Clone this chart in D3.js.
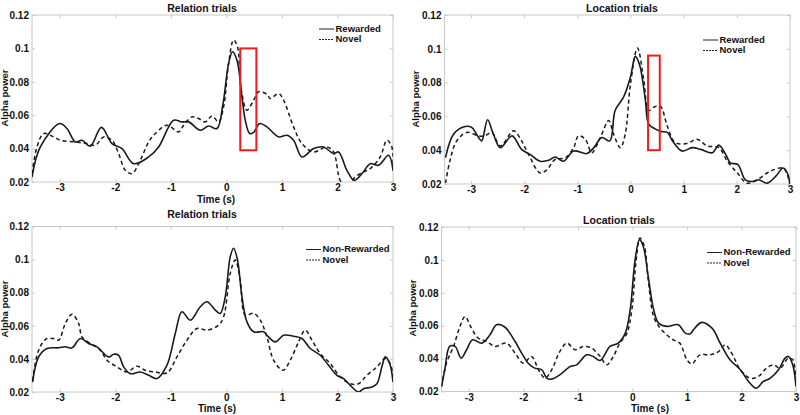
<!DOCTYPE html>
<html><head><meta charset="utf-8">
<script src="https://cdn.jsdelivr.net/npm/d3@7"></script>
<style>body{margin:0;background:#fff}svg{display:block}text{font-family:"Liberation Sans",Arial,sans-serif;font-weight:bold;fill:#111}</style>
</head><body><svg id="c" width="800" height="415"></svg>
<script>
// ---- data ----
const xTicks = [-3,-2,-1,0,1,2,3];
const yTicks = [0.02,0.04,0.06,0.08,0.1,0.12];
const yTickLabels = ["0.02","0.04","0.06","0.08","0.1","0.12"];
const titles = ["Relation trials","Location trials","Relation trials","Location trials"];
const legendTop = ["Rewarded","Novel"];
const legendBottom = ["Non-Rewarded","Novel"];

const relRewarded = [[-3.5,0.023],[-3.35,0.041],[-3.0,0.055],[-2.87,0.052],[-2.72,0.044],[-2.6,0.045],[-2.45,0.0415],[-2.25,0.0527],[-2.06,0.043],[-1.88,0.040],[-1.67,0.031],[-1.4,0.035],[-1.22,0.041],[-0.95,0.057],[-0.8,0.056],[-0.68,0.056],[-0.47,0.051],[-0.32,0.0535],[-0.17,0.052],[-0.06,0.067],[0.04,0.091],[0.11,0.098],[0.19,0.093],[0.28,0.071],[0.34,0.057],[0.42,0.049],[0.49,0.0497],[0.6,0.055],[0.73,0.053],[0.94,0.047],[1.09,0.048],[1.21,0.045],[1.36,0.035],[1.57,0.040],[1.75,0.041],[1.93,0.037],[2.02,0.038],[2.17,0.027],[2.3,0.021],[2.44,0.025],[2.59,0.031],[2.74,0.030],[2.92,0.036],[3.0,0.027]];
const relNovel = [[-3.5,0.025],[-3.41,0.041],[-3.29,0.049],[-3.11,0.047],[-2.99,0.045],[-2.72,0.044],[-2.51,0.043],[-2.36,0.042],[-2.21,0.047],[-2.06,0.045],[-1.94,0.037],[-1.82,0.027],[-1.7,0.025],[-1.55,0.033],[-1.4,0.044],[-1.28,0.049],[-1.07,0.054],[-0.86,0.050],[-0.77,0.054],[-0.62,0.059],[-0.5,0.058],[-0.38,0.056],[-0.26,0.0595],[-0.14,0.056],[-0.05,0.065],[0.04,0.091],[0.13,0.105],[0.2,0.101],[0.26,0.077],[0.37,0.063],[0.49,0.069],[0.58,0.074],[0.73,0.0725],[0.79,0.070],[0.94,0.073],[1.03,0.069],[1.21,0.053],[1.36,0.043],[1.57,0.038],[1.81,0.041],[1.93,0.038],[2.05,0.021],[2.17,0.017],[2.32,0.023],[2.47,0.026],[2.59,0.028],[2.77,0.035],[2.89,0.045],[2.98,0.041],[3.0,0.025]];

const locRewarded = [[-3.48,0.0356],[-3.33,0.0495],[-3.11,0.054],[-2.99,0.0535],[-2.86,0.0475],[-2.8,0.0455],[-2.69,0.058],[-2.58,0.0495],[-2.45,0.0415],[-2.23,0.0485],[-2.05,0.0405],[-1.89,0.0375],[-1.7,0.0335],[-1.54,0.034],[-1.42,0.036],[-1.26,0.0335],[-1.07,0.0395],[-0.82,0.038],[-0.69,0.0415],[-0.54,0.0475],[-0.39,0.0455],[-0.29,0.0635],[-0.13,0.0715],[0.0,0.0835],[0.09,0.0955],[0.17,0.0905],[0.28,0.0695],[0.34,0.0555],[0.47,0.0525],[0.59,0.051],[0.69,0.0505],[0.81,0.0445],[0.97,0.0395],[1.16,0.0415],[1.32,0.0405],[1.54,0.0385],[1.66,0.043],[1.79,0.0375],[1.88,0.0325],[2.02,0.0315],[2.16,0.0225],[2.32,0.0215],[2.41,0.0225],[2.57,0.0205],[2.73,0.0245],[2.87,0.0295],[2.95,0.0265],[3.0,0.0195]];
const locNovel = [[-3.48,0.0206],[-3.4,0.0335],[-3.27,0.0455],[-3.08,0.0505],[-2.86,0.0485],[-2.74,0.0485],[-2.61,0.0505],[-2.45,0.0425],[-2.2,0.0515],[-2.05,0.0455],[-1.92,0.0375],[-1.7,0.0265],[-1.57,0.0285],[-1.42,0.0345],[-1.23,0.0355],[-1.07,0.0415],[-0.98,0.0485],[-0.85,0.0465],[-0.73,0.0385],[-0.57,0.0475],[-0.41,0.0575],[-0.32,0.0495],[-0.19,0.0415],[-0.1,0.0495],[0.0,0.0795],[0.13,0.1005],[0.25,0.0815],[0.34,0.0635],[0.44,0.0655],[0.56,0.066],[0.69,0.0545],[0.84,0.0445],[1.06,0.044],[1.25,0.0465],[1.44,0.0425],[1.66,0.0415],[1.82,0.0335],[2.01,0.0265],[2.19,0.0205],[2.38,0.0225],[2.57,0.0265],[2.7,0.0285],[2.87,0.0295],[2.95,0.0255],[3.0,0.0195]];

const relNonRewarded = [[-3.49,0.026],[-3.38,0.0412],[-3.23,0.0463],[-3.02,0.0467],[-2.9,0.0473],[-2.78,0.0467],[-2.63,0.0523],[-2.48,0.0493],[-2.33,0.0473],[-2.12,0.0412],[-2.03,0.0428],[-1.94,0.0422],[-1.85,0.0352],[-1.73,0.0311],[-1.55,0.0321],[-1.4,0.0301],[-1.25,0.0281],[-1.07,0.0362],[-0.92,0.0554],[-0.8,0.0685],[-0.65,0.0634],[-0.47,0.0715],[-0.35,0.0745],[-0.2,0.0695],[-0.11,0.0675],[-0.02,0.0776],[0.07,0.1018],[0.13,0.1069],[0.2,0.0998],[0.28,0.0776],[0.37,0.0624],[0.49,0.0564],[0.67,0.0564],[0.73,0.0543],[0.88,0.0503],[1.03,0.0543],[1.21,0.0537],[1.36,0.0523],[1.51,0.0463],[1.69,0.0422],[1.84,0.0362],[1.99,0.0301],[2.11,0.0281],[2.23,0.024],[2.38,0.02],[2.47,0.022],[2.62,0.023],[2.71,0.025],[2.8,0.0352],[2.86,0.0412],[2.94,0.0372],[3.0,0.026]];
const relNovel2 = [[-3.49,0.027],[-3.41,0.0422],[-3.32,0.0493],[-3.23,0.0523],[-3.11,0.0523],[-3.02,0.0513],[-2.9,0.0614],[-2.78,0.067],[-2.66,0.0614],[-2.6,0.0533],[-2.45,0.0493],[-2.27,0.0453],[-2.15,0.0392],[-1.97,0.0352],[-1.79,0.0321],[-1.61,0.0356],[-1.46,0.0331],[-1.28,0.0321],[-1.07,0.0315],[-0.89,0.0412],[-0.71,0.0513],[-0.53,0.0584],[-0.35,0.0574],[-0.14,0.0604],[-0.05,0.0654],[0.07,0.0917],[0.16,0.0998],[0.25,0.0877],[0.34,0.0665],[0.49,0.0675],[0.61,0.0634],[0.73,0.0533],[0.85,0.0392],[1.02,0.0331],[1.15,0.0392],[1.3,0.0503],[1.42,0.0574],[1.54,0.0513],[1.69,0.0432],[1.87,0.0372],[2.05,0.0291],[2.23,0.025],[2.38,0.025],[2.53,0.0301],[2.71,0.0352],[2.86,0.0402],[2.95,0.0372],[3.0,0.0291]];

const locNonRewarded = [[-3.5,0.023],[-3.44,0.0332],[-3.35,0.0474],[-3.25,0.0474],[-3.14,0.0403],[-3.04,0.0454],[-2.93,0.0514],[-2.76,0.0494],[-2.61,0.0545],[-2.49,0.0606],[-2.34,0.0592],[-2.15,0.0504],[-2.03,0.0433],[-1.91,0.0372],[-1.79,0.0342],[-1.66,0.0332],[-1.57,0.0281],[-1.48,0.0275],[-1.33,0.0301],[-1.14,0.0352],[-1.02,0.0362],[-0.84,0.0423],[-0.72,0.0413],[-0.59,0.0389],[-0.41,0.0474],[-0.26,0.0494],[-0.13,0.0555],[-0.04,0.0697],[0.05,0.1001],[0.13,0.1123],[0.2,0.1082],[0.29,0.090],[0.39,0.0697],[0.48,0.0616],[0.63,0.0596],[0.84,0.0606],[0.97,0.0555],[1.06,0.0551],[1.12,0.0575],[1.27,0.062],[1.46,0.0585],[1.61,0.0494],[1.79,0.0393],[1.98,0.0332],[2.13,0.0261],[2.27,0.022],[2.4,0.0261],[2.53,0.0281],[2.68,0.0332],[2.8,0.0403],[2.86,0.0413],[2.94,0.0362],[3.0,0.023]];
const locNovel2 = [[-3.5,0.023],[-3.41,0.0372],[-3.28,0.0474],[-3.16,0.0596],[-3.07,0.0656],[-2.95,0.0585],[-2.83,0.0525],[-2.67,0.0504],[-2.52,0.0474],[-2.31,0.0494],[-2.15,0.0433],[-2.0,0.0372],[-1.85,0.0413],[-1.72,0.0332],[-1.6,0.0281],[-1.48,0.0332],[-1.33,0.0443],[-1.2,0.0494],[-1.05,0.0454],[-0.9,0.0474],[-0.75,0.0464],[-0.59,0.0413],[-0.47,0.0362],[-0.35,0.0413],[-0.23,0.0494],[-0.1,0.0555],[-0.01,0.0697],[0.07,0.1001],[0.14,0.1133],[0.22,0.1082],[0.29,0.088],[0.39,0.0656],[0.51,0.0585],[0.63,0.0545],[0.75,0.0514],[0.87,0.0494],[1.0,0.0393],[1.09,0.0368],[1.24,0.0423],[1.43,0.0423],[1.58,0.0443],[1.7,0.0484],[1.82,0.0433],[1.98,0.0332],[2.16,0.0281],[2.31,0.0291],[2.46,0.0342],[2.59,0.0362],[2.71,0.0342],[2.86,0.0403],[2.94,0.0393],[3.0,0.0241]];

// highlight boxes [t0,t1,v0,v1]
const relBox = [0.25,0.54,0.039,0.1];
const locBox = [0.33,0.55,0.04,0.096];

// ---- layout ----
const panels = [
  {x0:32, x1:393, y0:15, y1:182, solid:relRewarded, dashed:relNovel, title:titles[0], tx:202, ty:9, leg:legendTop, lx:319, ly:29, box:relBox, ylx:5, yly:98, xl:true, xlx:216, xly:203},
  {x0:444.5, x1:790, y0:15, y1:184, solid:locRewarded, dashed:locNovel, title:titles[1], tx:622, ty:9, leg:legendTop, lx:703, ly:40, box:locBox, ylx:416, yly:99, xl:false},
  {x0:32, x1:393, y0:226.5, y1:392, solid:relNonRewarded, dashed:relNovel2, title:titles[2], tx:202, ty:215, leg:legendBottom, lx:306, ly:249.5, box:null, ylx:5, yly:309, xl:true, xlx:217, xly:412},
  {x0:441.5, x1:796, y0:227, y1:391.5, solid:locNonRewarded, dashed:locNovel2, title:titles[3], tx:619, ty:221, leg:legendBottom, lx:707, ly:252.5, box:null, ylx:413, yly:308, xl:true, xlx:650, xly:412}
];

const svg = d3.select("#c");
panels.forEach((p,i)=>{
  const x = d3.scaleLinear().domain([-3.5,3]).range([p.x0,p.x1]);
  const y = d3.scaleLinear().domain([0.02,0.12]).range([p.y1,p.y0]);
  const g = svg.append("g");
  svg.append("clipPath").attr("id","cp"+i).append("rect")
    .attr("x",p.x0).attr("y",p.y0).attr("width",p.x1-p.x0).attr("height",p.y1-p.y0);
  g.append("rect").attr("x",p.x0).attr("y",p.y0).attr("width",p.x1-p.x0).attr("height",p.y1-p.y0)
    .attr("fill","none").attr("stroke","#c8c8c8").attr("stroke-width",1);
  const ax = g.append("g").attr("transform",`translate(0,${p.y1})`)
    .call(d3.axisBottom(x).tickValues(xTicks).tickSize(-3).tickPadding(2).tickFormat(d=> d<0 ? "-"+Math.abs(d) : String(d)));
  const axT = g.append("g").attr("transform",`translate(0,${p.y0})`)
    .call(d3.axisTop(x).tickValues(xTicks).tickSize(-3).tickFormat(""));
  const ay = g.append("g").attr("transform",`translate(${p.x0},0)`)
    .call(d3.axisLeft(y).tickValues(yTicks).tickSize(-3).tickPadding(3).tickFormat((d,k)=>yTickLabels[k]));
  const ayR = g.append("g").attr("transform",`translate(${p.x1},0)`)
    .call(d3.axisRight(y).tickValues(yTicks).tickSize(-3).tickFormat(""));
  [ax,axT,ay,ayR].forEach(a=>{
    a.select(".domain").remove();
    a.selectAll("line").attr("stroke","#c8c8c8");
    a.selectAll("text").attr("font-size",10).attr("font-family","Liberation Sans, Arial, sans-serif").attr("font-weight","bold").attr("fill","#111");
  });
  const line = d3.line().x(d=>x(d[0])).y(d=>y(d[1])).curve(d3.curveCatmullRom.alpha(0.5));
  const lg = g.append("g").attr("clip-path",`url(#cp${i})`);
  lg.append("path").attr("d",line(p.dashed)).attr("fill","none").attr("stroke","#1a1a1a").attr("stroke-width",1.5).attr("stroke-dasharray","4,3");
  lg.append("path").attr("d",line(p.solid)).attr("fill","none").attr("stroke","#1a1a1a").attr("stroke-width",1.6);
  if(p.box){
    g.append("rect").attr("x",x(p.box[0])).attr("y",y(p.box[3])).attr("width",x(p.box[1])-x(p.box[0])).attr("height",y(p.box[2])-y(p.box[3]))
      .attr("fill","none").attr("stroke","#ee1c1c").attr("stroke-width",2);
  }
  g.append("text").attr("x",p.tx).attr("y",p.ty).attr("text-anchor","middle").attr("dominant-baseline","middle").attr("font-size",10.5).text(p.title);
  p.leg.forEach((name,k)=>{
    const yy = p.ly + k*10.5;
    g.append("line").attr("x1",p.lx).attr("x2",p.lx+15).attr("y1",yy).attr("y2",yy)
      .attr("stroke","#222").attr("stroke-width",1).attr("stroke-dasharray",k?"2,1":null);
    g.append("text").attr("x",p.lx+16.5).attr("y",yy).attr("dominant-baseline","middle").attr("font-size",9.5).text(name);
  });
  g.append("text").attr("transform",`translate(${p.ylx},${p.yly}) rotate(-90)`).attr("text-anchor","middle").attr("dominant-baseline","middle").attr("font-size",9.5).text("Alpha power");
  if(p.xl) g.append("text").attr("x",p.xlx).attr("y",p.xly).attr("text-anchor","middle").attr("font-size",10).text("Time (s)");
});
</script></body></html>
